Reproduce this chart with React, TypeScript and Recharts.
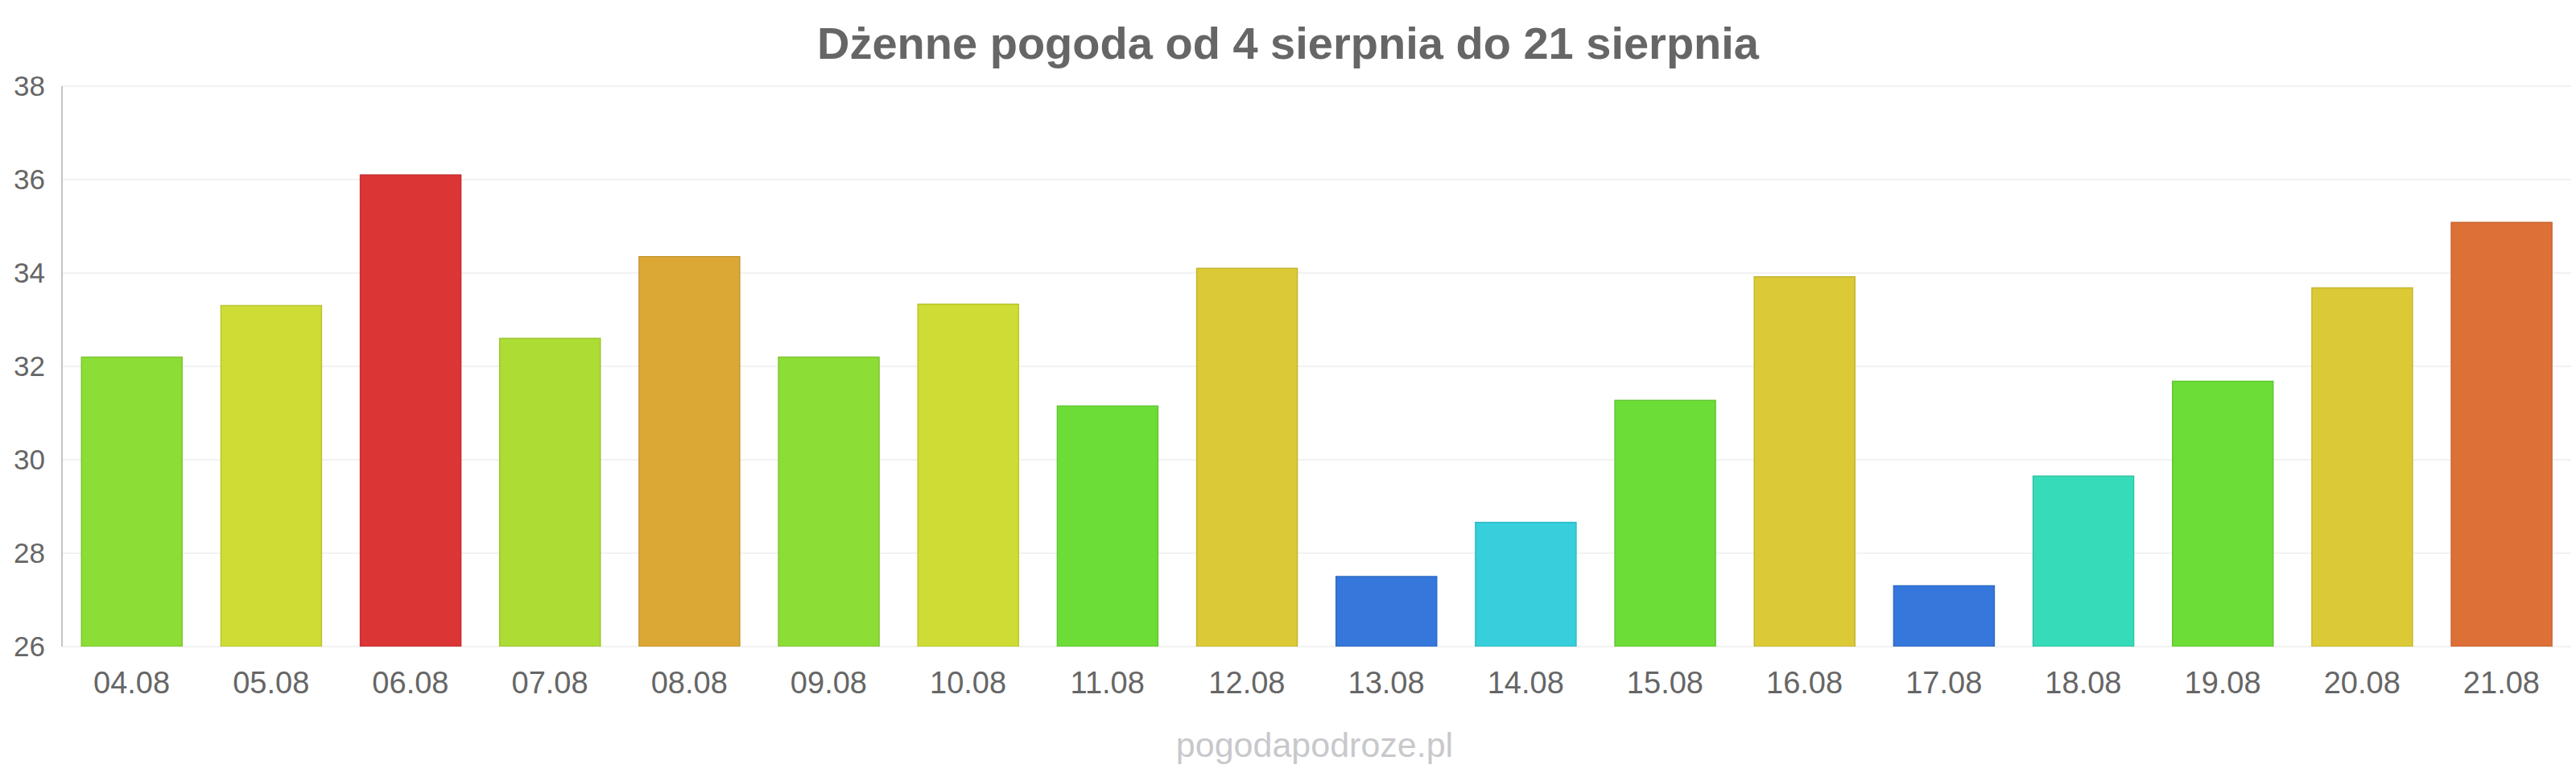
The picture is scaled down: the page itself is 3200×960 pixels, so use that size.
import { BarChart, Bar, XAxis, YAxis, CartesianGrid, Cell } from 'recharts';

const days = [
  '04.08', '05.08', '06.08', '07.08', '08.08', '09.08', '10.08', '11.08', '12.08',
  '13.08', '14.08', '15.08', '16.08', '17.08', '18.08', '19.08', '20.08', '21.08',
];

const temps = [
  32.2, 33.3, 36.1, 32.6, 34.35, 32.2, 33.33, 31.15, 34.1,
  27.5, 28.66, 31.27, 33.92, 27.3, 29.65, 31.68, 33.68, 35.08,
];

const barColors = [
  '#8cdd36', '#cfdc35', '#db3536', '#addc35', '#dca835', '#8cdd35', '#cfdc35', '#6cdd37', '#dbca35',
  '#3577db', '#36cfdb', '#6cdd37', '#dbca35', '#3577db', '#36dbb9', '#6cdd37', '#dbca35', '#dd7036',
];

const yTicks = [26, 28, 30, 32, 34, 36, 38];

const title = 'Dżenne pogoda od 4 sierpnia do 21 sierpnia';
const credit = 'pogodapodroze.pl';

const chartData = days.map((day, i) => ({ day, temp: temps[i] }));

const font = '"Liberation Sans", Arial, sans-serif';

// slightly darker edge for each bar
const darken = (hex: string, f = 0.9) => {
  const n = parseInt(hex.slice(1), 16);
  const r = Math.round(((n >> 16) & 255) * f);
  const g = Math.round(((n >> 8) & 255) * f);
  const b = Math.round((n & 255) * f);
  return `rgb(${r},${g},${b})`;
};

export default function App() {
  return (
    <div
      style={{
        position: 'absolute',
        left: 0,
        top: 0,
        width: 3200,
        height: 960,
        background: '#ffffff',
        fontFamily: font,
        overflow: 'hidden',
      }}
    >
      <div
        style={{
          position: 'absolute',
          top: 26,
          left: 0,
          width: 3200,
          textAlign: 'center',
          fontSize: 56,
          lineHeight: '56px',
          fontWeight: 'bold',
          color: '#666666',
        }}
      >
        {title}
      </div>
      <BarChart
        width={3200}
        height={960}
        data={chartData}
        margin={{ top: 107, right: 6, left: 0, bottom: 97 }}
        barCategoryGap="14%"
      >
        <CartesianGrid vertical={false} stroke="#f2f2f2" strokeWidth={2} />
        <XAxis
          dataKey="day"
          axisLine={false}
          tickLine={false}
          tickSize={6}
          tickMargin={25}
          height={60}
          interval={0}
          tick={{ fill: '#666666', fontSize: 38, fontFamily: font }}
        />
        <YAxis
          domain={[26, 38]}
          ticks={yTicks}
          width={77}
          axisLine={{ stroke: '#c4c4c4', strokeWidth: 2 }}
          tickLine={false}
          tickSize={6}
          tickMargin={15}
          tick={{ fill: '#666666', fontSize: 35, fontFamily: font }}
          allowDataOverflow
        />
        <Bar dataKey="temp" isAnimationActive={false} strokeWidth={1.5}>
          {chartData.map((_, i) => (
            <Cell key={`bar-${i}`} fill={barColors[i]} stroke={darken(barColors[i])} />
          ))}
        </Bar>
      </BarChart>
      <div
        style={{
          position: 'absolute',
          top: 900,
          left: 0,
          width: 3200,
          textAlign: 'center',
          fontSize: 43,
          lineHeight: '50px',
          color: '#c8c8cc',
          paddingLeft: 66,
          boxSizing: 'border-box',
        }}
      >
        {credit}
      </div>
    </div>
  );
}
